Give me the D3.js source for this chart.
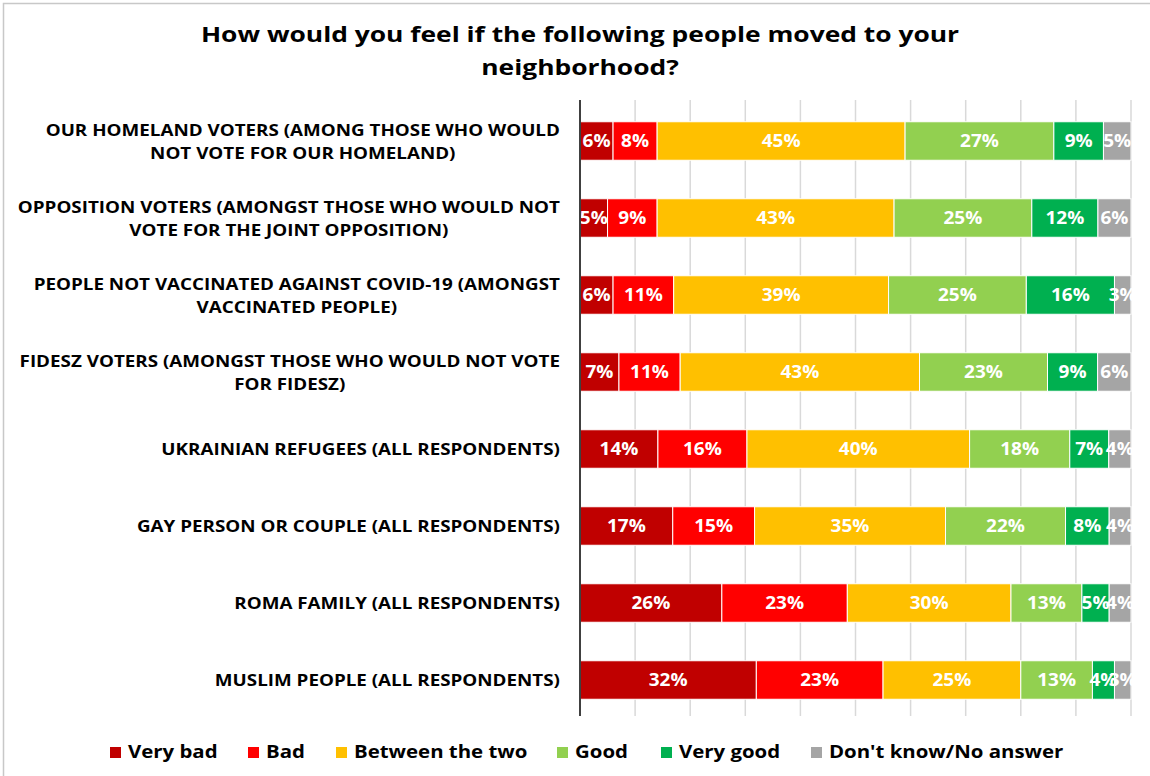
<!DOCTYPE html>
<html>
<head>
<meta charset="utf-8">
<script src="https://cdn.jsdelivr.net/npm/d3@7.9.0/dist/d3.min.js"></script>
<style>
  body { margin: 0; background: #fff; }
  svg { display: block; font-family: "Open Sans", "Liberation Sans", Arial, sans-serif; }
</style>
</head>
<body>
<div id="chart"></div>
<script>
const categories = [
    "OUR HOMELAND VOTERS (AMONG THOSE WHO WOULD|NOT VOTE FOR OUR HOMELAND)",
    "OPPOSITION VOTERS (AMONGST THOSE WHO WOULD NOT|VOTE FOR THE JOINT OPPOSITION)",
    "PEOPLE NOT VACCINATED AGAINST COVID-19 (AMONGST|VACCINATED PEOPLE)",
    "FIDESZ VOTERS (AMONGST THOSE WHO WOULD NOT VOTE|FOR FIDESZ)",
    "UKRAINIAN REFUGEES (ALL RESPONDENTS)",
    "GAY PERSON OR COUPLE (ALL RESPONDENTS)",
    "ROMA FAMILY (ALL RESPONDENTS)",
    "MUSLIM PEOPLE (ALL RESPONDENTS)"
];
const seriesNames = ["Very bad", "Bad", "Between the two", "Good", "Very good", "Don't know/No answer"];
const veryBad  = [6, 5, 6, 7, 14, 17, 26, 32];
const bad      = [8, 9, 11, 11, 16, 15, 23, 23];
const between  = [45, 43, 39, 43, 40, 35, 30, 25];
const good     = [27, 25, 25, 23, 18, 22, 13, 13];
const veryGood = [9, 12, 16, 9, 7, 8, 5, 4];
const dontKnow = [5, 6, 3, 6, 4, 4, 4, 3];
const colors = ["#C00000", "#FF0000", "#FFC000", "#92D050", "#00B050", "#A5A5A5"];
const gridTicks = [0.1, 0.2, 0.3, 0.4, 0.5, 0.6, 0.7, 0.8, 0.9, 1.0];

const width = 1150;
const height = 776;
const plot = { left: 580, right: 1131, top: 100, bottom: 716 };

const seriesValues = [veryBad, bad, between, good, veryGood, dontKnow];
const rows = categories.map((c, i) => {
    const r = { category: c };
    seriesNames.forEach((s, j) => r[s] = seriesValues[j][i]);
    return r;
});

const svg = d3.select("#chart").append("svg")
    .attr("width", width)
    .attr("height", height);

// outer frame
svg.append("rect")
    .attr("x", 3.5).attr("y", 3.5)
    .attr("width", width + 20).attr("height", height + 20)
    .attr("fill", "none")
    .attr("stroke", "#c8c8c8")
    .attr("stroke-width", 1.5);

// helper: text stretched horizontally (the source font is wide)
function wideText(parent, x, y, sx, anchor) {
    return parent.append("text")
        .attr("transform", `translate(${x},${y}) scale(${sx},1)`)
        .attr("text-anchor", anchor)
        .attr("font-weight", "bold");
}

// title
wideText(svg, 580, 42, 1.2, "middle").attr("font-size", 22).attr("fill", "#000")
    .text("How would you feel if the following people moved to your");
wideText(svg, 580, 75, 1.2, "middle").attr("font-size", 22).attr("fill", "#000")
    .text("neighborhood?");

const xScale = d3.scaleLinear().domain([0, 1]).range([plot.left, plot.right]);
const yScale = d3.scaleBand()
    .domain(categories)
    .range([102.5, 718.5])
    .paddingInner(0.5)
    .paddingOuter(0.25);

// grid lines
svg.append("g")
    .selectAll("line")
    .data(gridTicks)
    .join("line")
    .attr("x1", d => xScale(d)).attr("x2", d => xScale(d))
    .attr("y1", plot.top).attr("y2", plot.bottom)
    .attr("stroke", "#d9d9d9")
    .attr("stroke-width", 1.5);

const stack = d3.stack().keys(seriesNames).offset(d3.stackOffsetExpand);
const stacked = stack(rows);

const layers = svg.append("g")
    .selectAll("g")
    .data(stacked)
    .join("g")
    .attr("fill", (d, i) => colors[i]);

layers.selectAll("rect")
    .data(d => d)
    .join("rect")
    .attr("x", d => xScale(d[0]))
    .attr("y", d => yScale(d.data.category))
    .attr("width", d => xScale(d[1]) - xScale(d[0]))
    .attr("height", yScale.bandwidth())
    .attr("stroke", "#fff")
    .attr("stroke-width", 1);

const labelG = svg.append("g");
stacked.forEach(layer => {
    layer.forEach(d => {
        const cx = (xScale(d[0]) + xScale(d[1])) / 2;
        const cy = yScale(d.data.category) + yScale.bandwidth() / 2 + 6;
        wideText(labelG, cx, cy, 1.12, "middle")
            .attr("font-size", 17)
            .attr("fill", "#fff")
            .text(d.data[layer.key] + "%");
    });
});

// y axis line
svg.append("line")
    .attr("x1", plot.left).attr("x2", plot.left)
    .attr("y1", plot.top).attr("y2", plot.bottom)
    .attr("stroke", "#404040")
    .attr("stroke-width", 2);

// category labels, each block right-aligned with lines centered inside
const catSx = 1.14;
categories.forEach(c => {
    const lines = c.split("|");
    const g = svg.append("g");
    const cy = yScale(c) + yScale.bandwidth() / 2;
    const items = lines.map((ln, k) => {
        const y = cy + (k - (lines.length - 1) / 2) * 23 + 6;
        const t = g.append("text")
            .attr("text-anchor", "middle")
            .attr("font-size", 16.5)
            .attr("font-weight", "bold")
            .attr("fill", "#000")
            .text(ln);
        return { t, y };
    });
    const maxW = d3.max(items, it => it.t.node().getComputedTextLength()) * catSx;
    items.forEach(it => it.t.attr("transform", `translate(${560 - maxW / 2},${it.y}) scale(${catSx},1)`));
});

// legend
const legendX = [110, 248, 336, 557, 661, 811];
const legend = svg.append("g")
    .selectAll("g")
    .data(seriesNames)
    .join("g")
    .attr("transform", (d, i) => `translate(${legendX[i]},747)`);
legend.append("rect")
    .attr("width", 11).attr("height", 11)
    .attr("fill", (d, i) => colors[i]);
legend.each(function(d) {
    wideText(d3.select(this), 18, 11, 1.2, "start")
        .attr("font-size", 17)
        .attr("fill", "#000")
        .text(d);
});
</script>
</body>
</html>
